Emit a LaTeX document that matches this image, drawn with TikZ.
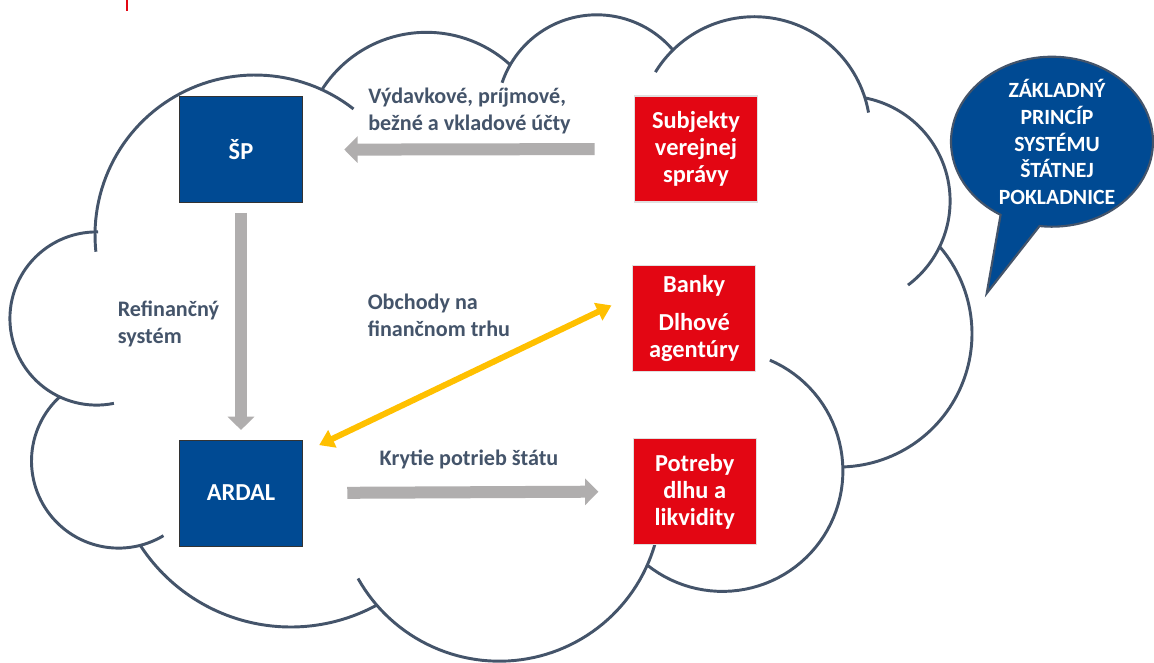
\documentclass[tikz,border=0pt]{standalone}
\usepackage{fontspec}
\setmainfont{Carlito}
\usetikzlibrary{arrows.meta}
\definecolor{spblue}{RGB}{0,74,147}
\definecolor{spred}{RGB}{227,6,19}
\definecolor{slate}{RGB}{68,84,106}
\definecolor{arrowgrey}{RGB}{176,174,174}
\definecolor{gold}{RGB}{255,192,0}
\begin{document}
\begin{tikzpicture}[x=0.75pt, y=-0.75pt,
    box/.style={minimum width=92pt, minimum height=79.5pt, inner sep=0pt, outer sep=0pt, align=center, text=white, font=\bfseries\fontsize{18.3}{20.3}\selectfont},
    bluebox/.style={box, fill=spblue, draw=black!80, line width=0.6pt},
    redbox/.style={box, fill=spred, draw=black!12, line width=0.8pt},
    lbl/.style={inner sep=0pt, align=left, text=slate, font=\bfseries\fontsize{16.6}{20.3}\selectfont},
    cloudline/.style={draw=slate, line width=2.2pt},
    greyarrow/.style={draw=arrowgrey, line width=9pt, -{Triangle[length=10pt, width=19.5pt]}},
    goldarrow/.style={draw=gold, line width=4.5pt, {Triangle[length=11pt, width=14pt]}-{Triangle[length=11pt, width=14pt]}}]
    \fill[white] (0,0) rectangle (1154,662);
    \useasboundingbox (0,0) rectangle (1154,662);
    \draw[spred, line width=2pt] (127,0) -- (127,11);
    % cloud puffs: centre x / centre y / radius / start / end angle
    \foreach \cx/\cy/\rr/\angA/\angB in {255/235/160/174/308, 426.5/156.3/124/212.4/312.4,
        596.8/114.8/100/198.7/319.6, 754.3/132.7/116/211.5/350, 845.1/201/105/281/413.2,
        838.7/333.7/133.3/319.4/448.2, 722.4/470.9/120.5/293.2/488.7, 499.3/499.2/162/16.2/150.7,
        290.8/447.4/179.6/61.3/147.1, 118.6/461/87.1/59/227.7, 96.5/318.5/86.6/78.4/271}
      \draw[cloudline] plot[domain=\angA:\angB, samples=60, variable=\t] ({\cx+\rr*cos(\t)}, {\cy+\rr*sin(\t)});
    % speech bubble
    \filldraw[fill=spblue, draw=slate, line width=1.6pt, line join=miter] plot[domain=-239.4:97.1, samples=100, variable=\t] ({1052+101*cos(\t)}, {141.7+85*sin(\t)}) -- (986.7,293.3) -- cycle;
    \node[inner sep=0pt, align=center, text=white, font=\bfseries\fontsize{16.3}{20}\selectfont] (zaklad) at (1057,142) {ZÁKLADNÝ\\PRINCÍP\\SYSTÉMU\\ŠTÁTNEJ\\POKLADNICE};
    % boxes
    \node[bluebox] (sp) at (241,149.7) {ŠP};
    \node[bluebox] (ardal) at (241,493) {ARDAL};
    \node[redbox] (subj) at (696,149) {Subjekty\\verejnej\\správy};
    \node[redbox] (banky) at (694.2,318.7) {Banky\\[0.45em]Dlhové\\agentúry};
    \node[redbox] (potreby) at (694.7,491.5) {Potreby\\dlhu a\\likvidity};
    % arrows
    \draw[greyarrow, shorten <=30pt, shorten >=31.5pt] (subj.west) -- (sp.east);
    \draw[greyarrow, shorten <=7.7pt, shorten >=7.5pt] (sp.south) -- (ardal.north);
    \draw[greyarrow, shorten <=33.7pt, shorten >=26.2pt] (ardal.east) -- (potreby.west);
    \draw[goldarrow, shorten <=14pt, shorten >=17.8pt] (ardal.33) -- (banky.159);
    % labels
    \node[lbl, anchor=west] (ucty) at (368,110.5) {Výdavkové, príjmové,\\bežné a vkladové účty};
    \node[lbl, anchor=west] (refin) at (117.5,324) {Refinančný\\systém};
    \node[lbl, anchor=west] (obchody) at (367.5,315) {Obchody na\\finančnom trhu};
    \node[lbl] (krytie) at (469,459) {Krytie potrieb štátu};
\end{tikzpicture}
\end{document}
